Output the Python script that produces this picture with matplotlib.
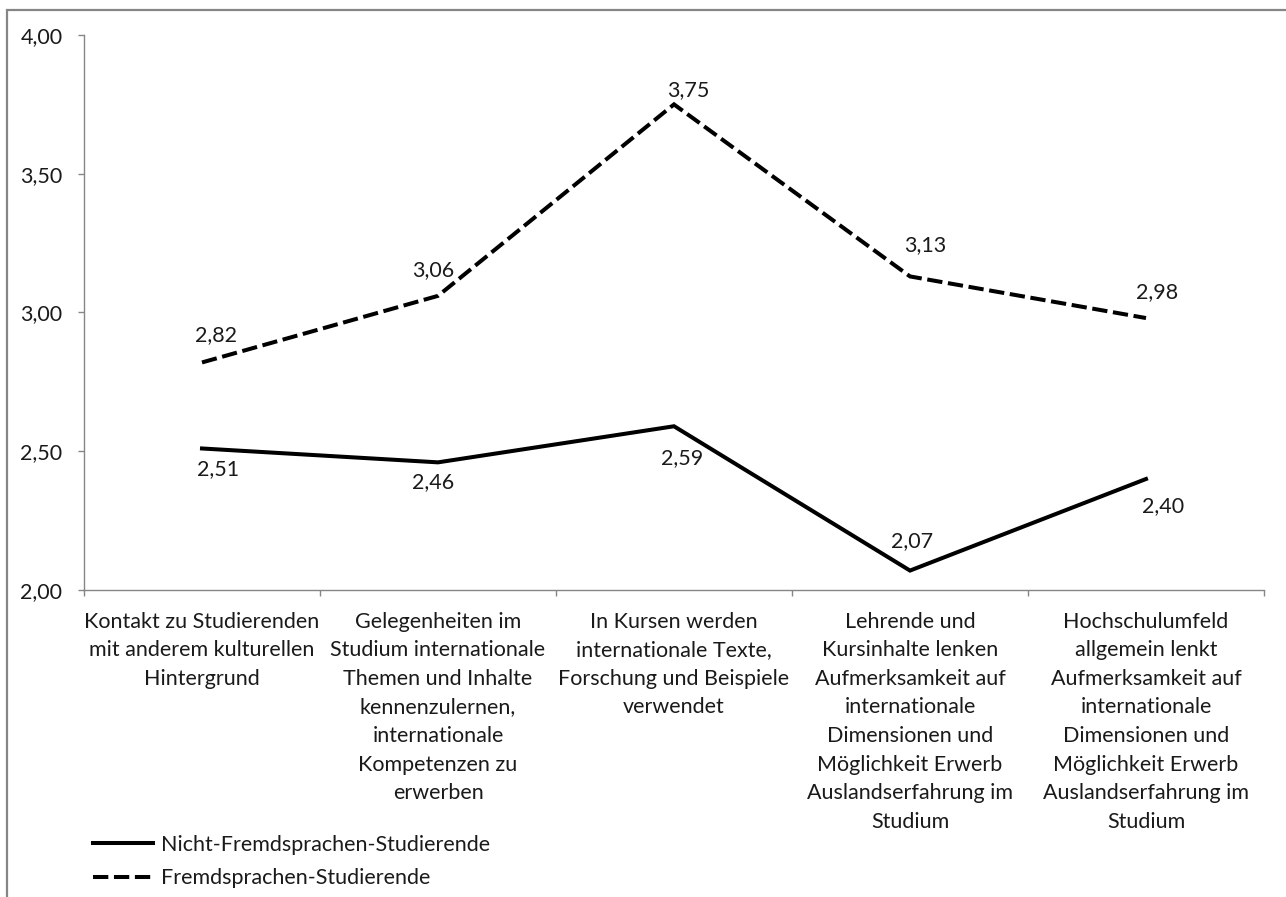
import numpy as np
import matplotlib.pyplot as plt
from matplotlib.patches import Rectangle

categories = [
    "Kontakt zu Studierenden\nmit anderem kulturellen\nHintergrund",
    "Gelegenheiten im\nStudium internationale\nThemen und Inhalte\nkennenzulernen,\ninternationale\nKompetenzen zu\nerwerben",
    "In Kursen werden\ninternationale Texte,\nForschung und Beispiele\nverwendet",
    "Lehrende und\nKursinhalte lenken\nAufmerksamkeit auf\ninternationale\nDimensionen und\nMöglichkeit Erwerb\nAuslandserfahrung im\nStudium",
    "Hochschulumfeld\nallgemein lenkt\nAufmerksamkeit auf\ninternationale\nDimensionen und\nMöglichkeit Erwerb\nAuslandserfahrung im\nStudium",
]
nicht_fs = [2.51, 2.46, 2.59, 2.07, 2.40]
fs = [2.82, 3.06, 3.75, 3.13, 2.98]
series_names = ["Nicht-Fremdsprachen-Studierende", "Fremdsprachen-Studierende"]
yticks = [2.0, 2.5, 3.0, 3.5, 4.0]

# label offsets in pixels (dx, dy)
off_nicht = [(16, -21), (-5, -20), (8, -32), (2, 29), (17, -27)]
off_fs = [(14, 27), (-5, 26), (14, 14), (15, 31), (11, 26)]

plt.rcParams['font.family'] = ['Lato', 'DejaVu Sans']
fsz = 15.5
txt = '#1a1a1a'
grey = '#868686'

W, H = 1286, 897
fig = plt.figure(figsize=(W / 100, H / 100), dpi=100)
ax = fig.add_axes([84 / W, 1 - 590 / H, (1264 - 84) / W, (590 - 35) / H])

x = np.arange(len(categories))
lw = 2.9
ax.plot(x, nicht_fs, color='black', lw=lw, solid_joinstyle='miter', label=series_names[0])
ax.plot(x, fs, color='black', lw=lw, dashes=(3.8, 1.4), dash_capstyle='butt',
        dash_joinstyle='miter', label=series_names[1])

def fmt(v):
    return ('%.2f' % v).replace('.', ',')

for i in range(len(x)):
    ax.annotate(fmt(nicht_fs[i]), (x[i], nicht_fs[i]), xytext=off_nicht[i],
                textcoords='offset pixels', ha='center', va='center', fontsize=fsz, color=txt)
    ax.annotate(fmt(fs[i]), (x[i], fs[i]), xytext=off_fs[i],
                textcoords='offset pixels', ha='center', va='center', fontsize=fsz, color=txt)

ax.set_xlim(-0.5, len(categories) - 0.5)
ax.set_ylim(2.0, 4.0)
ax.set_yticks(yticks)
ax.set_yticklabels([fmt(v) for v in yticks], fontsize=fsz, color=txt)
ax.set_xticks(np.arange(-0.5, len(categories)))
ax.set_xticklabels([])
ax.set_xticks(x, minor=True)
ax.set_xticklabels(categories, minor=True, fontsize=fsz, color=txt, linespacing=1.54, va='top')
ax.tick_params(axis='x', which='minor', length=0, pad=15.5)
ax.tick_params(axis='x', which='major', length=4.5, width=1, color=grey, direction='out')
ax.tick_params(axis='y', length=4.5, width=1, color=grey, pad=11)

for s in ['top', 'right']:
    ax.spines[s].set_visible(False)
for s in ['left', 'bottom']:
    ax.spines[s].set_color(grey)
    ax.spines[s].set_linewidth(1)

leg = fig.legend(loc='upper left', bbox_to_anchor=(93 / W, 1 - 835 / H), frameon=False,
                 fontsize=fsz, handlelength=2.8, handletextpad=0.37, labelspacing=0.62,
                 borderpad=0, borderaxespad=0)
for t in leg.get_texts():
    t.set_color(txt)

# chart border (top and left visible, rest cropped)
fig.add_artist(Rectangle((7 / W, -0.1), 1.2, 1 - 10 / H + 0.1, transform=fig.transFigure,
                         fill=False, edgecolor=grey, lw=1.6))

fig.savefig('out.png', dpi=100, facecolor='white')
